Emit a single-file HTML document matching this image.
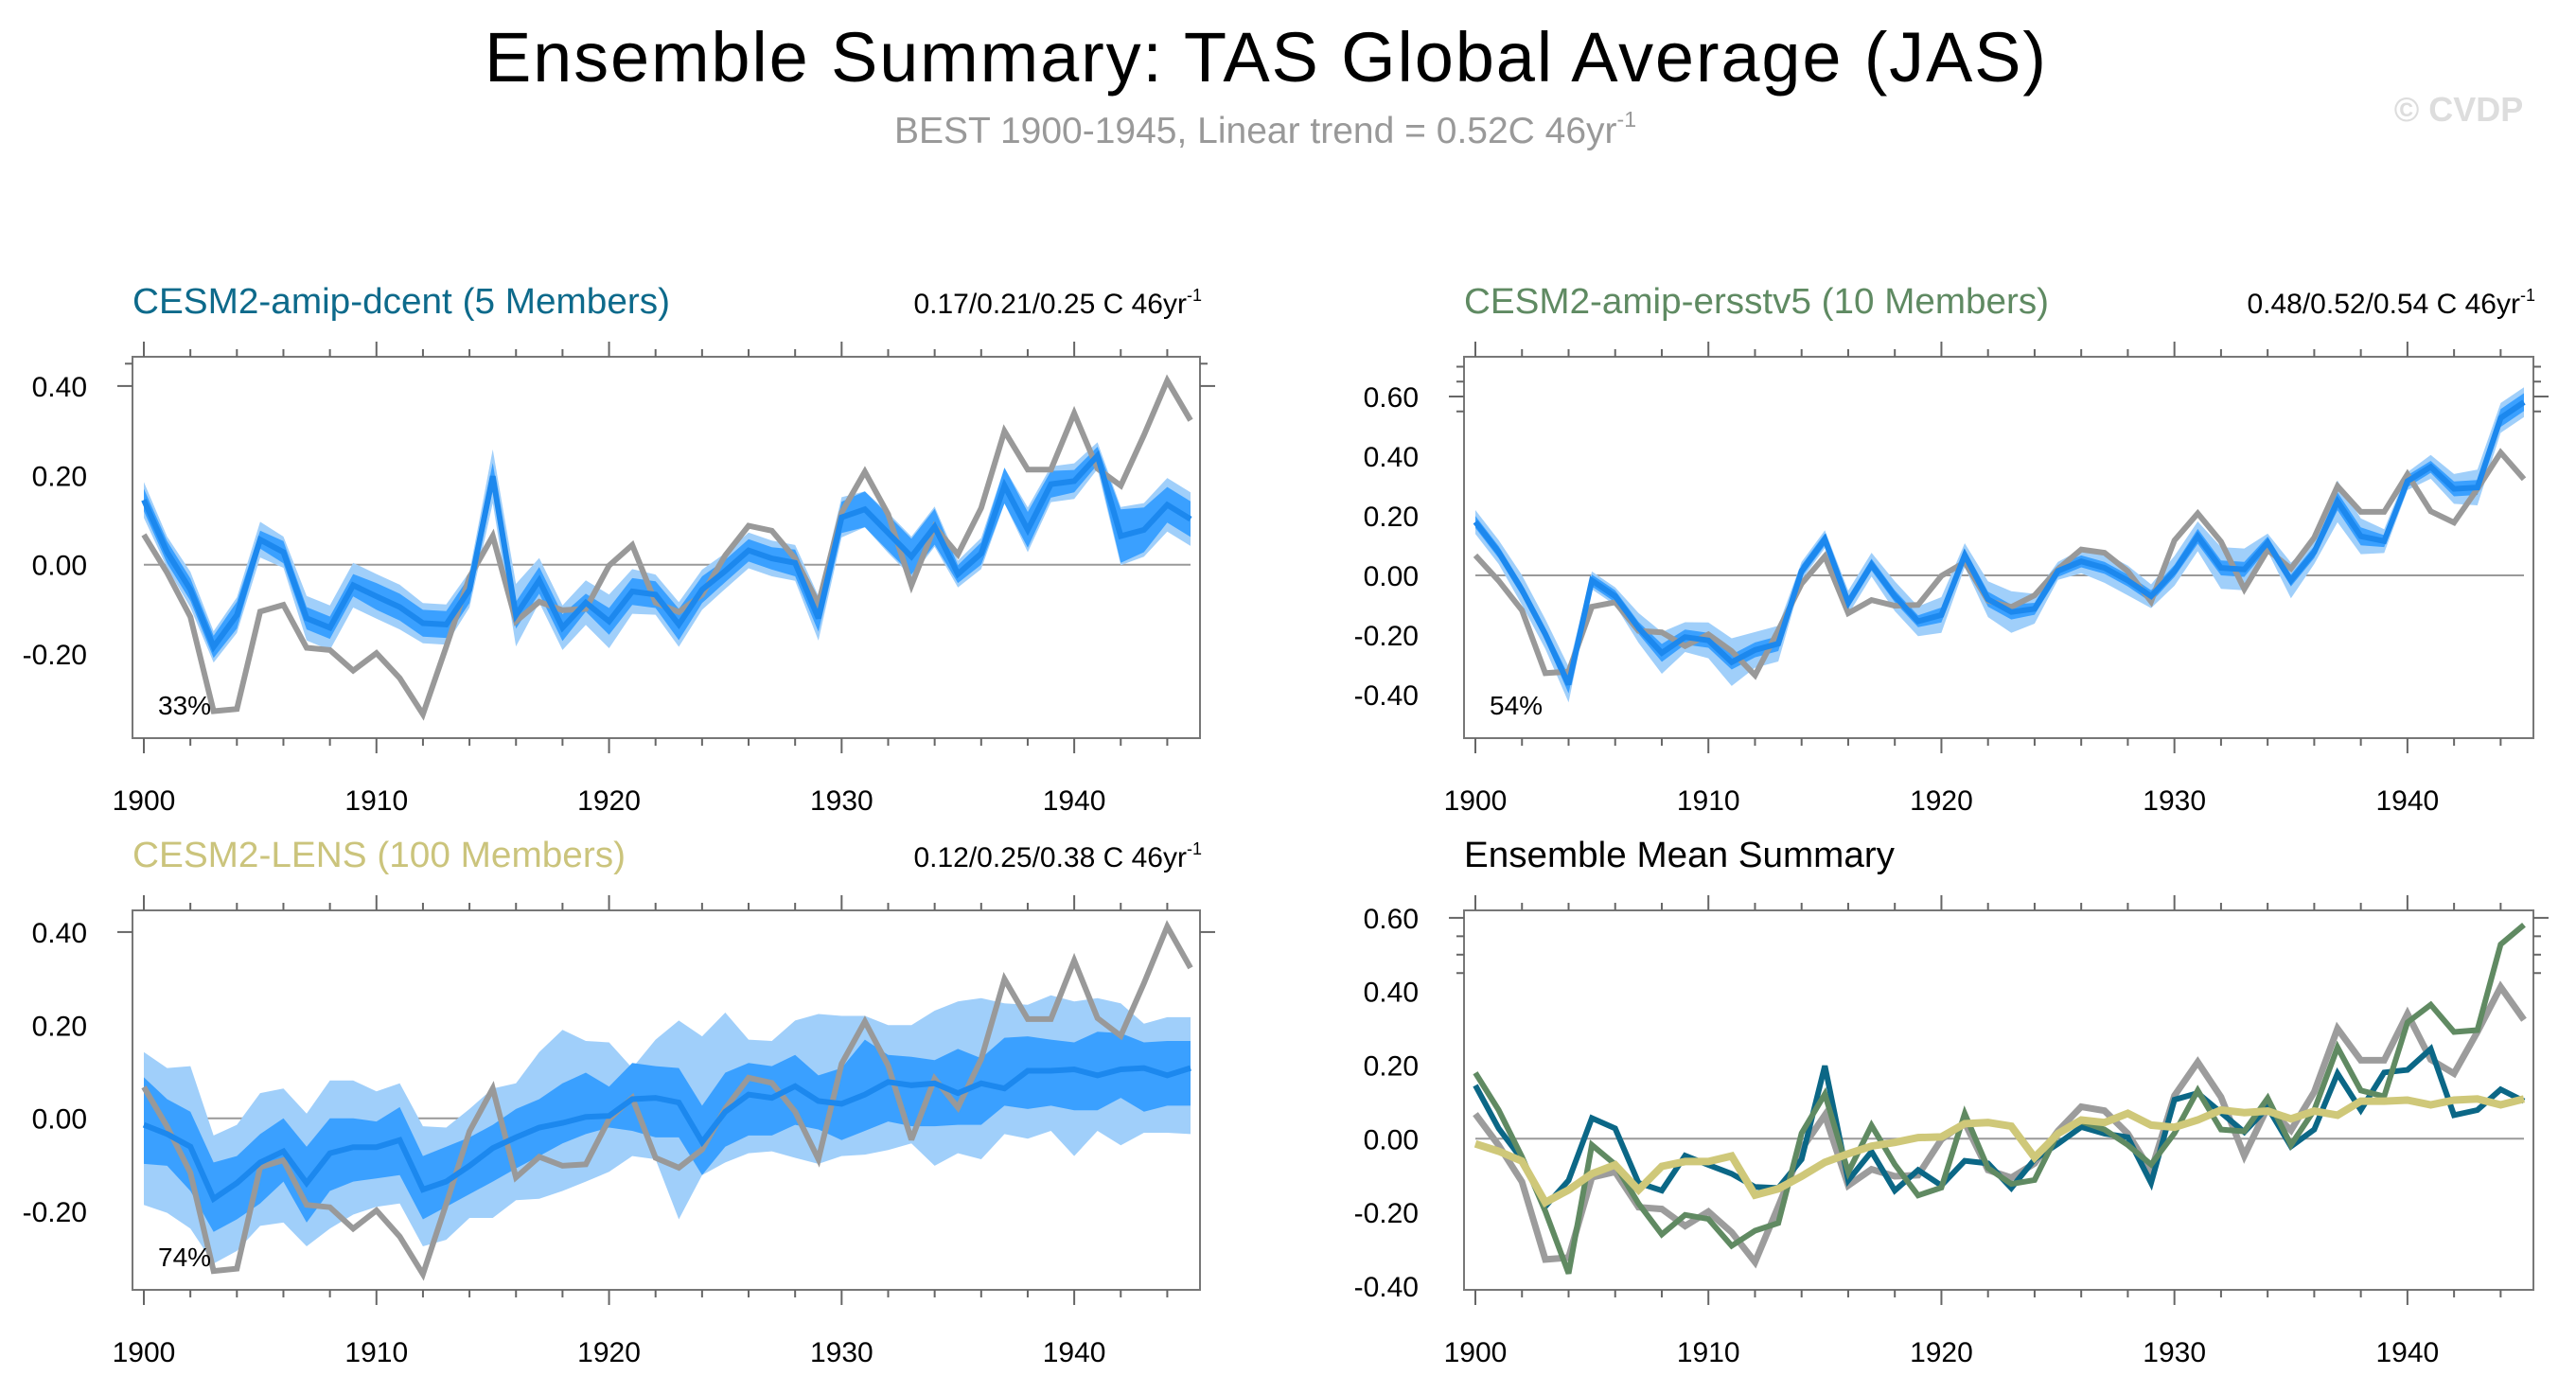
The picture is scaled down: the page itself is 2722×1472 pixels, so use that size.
<!DOCTYPE html>
<html><head><meta charset="utf-8"><style>
html,body{margin:0;padding:0;background:#fff;}
svg{display:block;font-family:"Liberation Sans",sans-serif;}
</style></head><body>
<svg id="chart" width="2722" height="1472" viewBox="0 0 2722 1472" xmlns="http://www.w3.org/2000/svg">
<text x="1337" y="86" font-size="74" text-anchor="middle" fill="#000" textLength="1650">Ensemble Summary: TAS Global Average (JAS)</text>
<text x="1337" y="151" font-size="39" text-anchor="middle" fill="#999">BEST 1900-1945, Linear trend = 0.52C 46yr<tspan font-size="23" dy="-17">-1</tspan></text>
<text x="2598" y="128" font-size="36" font-weight="bold" text-anchor="middle" fill="#ddd">© CVDP</text>
<g id="panels"></g>
</svg>
<script>
const years = [1900,1901,1902,1903,1904,1905,1906,1907,1908,1909,1910,1911,1912,1913,1914,1915,1916,1917,1918,1919,1920,1921,1922,1923,1924,1925,1926,1927,1928,1929,1930,1931,1932,1933,1934,1935,1936,1937,1938,1939,1940,1941,1942,1943,1944,1945];
const best = [0.067,-0.018,-0.117,-0.328,-0.323,-0.105,-0.090,-0.186,-0.191,-0.237,-0.198,-0.254,-0.335,-0.184,-0.028,0.064,-0.127,-0.083,-0.102,-0.099,-0.002,0.044,-0.085,-0.106,-0.067,0.021,0.087,0.076,0.014,-0.088,0.117,0.208,0.113,-0.046,0.085,0.023,0.127,0.299,0.213,0.213,0.339,0.215,0.177,0.290,0.412,0.323];
const dcentMean = [0.145,0.028,-0.056,-0.184,-0.113,0.056,0.028,-0.120,-0.141,-0.046,-0.071,-0.095,-0.131,-0.134,-0.056,0.198,-0.113,-0.035,-0.141,-0.085,-0.127,-0.060,-0.067,-0.134,-0.056,-0.014,0.032,0.014,0.004,-0.120,0.106,0.124,0.071,0.018,0.085,-0.021,0.025,0.177,0.078,0.180,0.187,0.244,0.064,0.078,0.134,0.102];
const dcentInner = [0.025,0.025,0.025,0.025,0.03,0.02,0.025,0.025,0.025,0.025,0.03,0.03,0.03,0.03,0.03,0.03,0.03,0.03,0.03,0.02,0.03,0.03,0.03,0.035,0.03,0.025,0.025,0.025,0.03,0.03,0.035,0.04,0.04,0.04,0.04,0.02,0.025,0.04,0.04,0.03,0.025,0.02,0.06,0.05,0.04,0.04];
const dcentOuter = [0.04,0.035,0.04,0.035,0.04,0.04,0.035,0.05,0.05,0.05,0.05,0.05,0.045,0.045,0.04,0.06,0.07,0.05,0.05,0.05,0.06,0.05,0.045,0.05,0.045,0.04,0.04,0.04,0.04,0.05,0.045,0.04,0.045,0.045,0.045,0.03,0.035,0.04,0.05,0.04,0.04,0.03,0.065,0.06,0.06,0.06];
const ersMean = [0.179,0.078,-0.049,-0.197,-0.366,-0.017,-0.070,-0.176,-0.260,-0.207,-0.218,-0.291,-0.250,-0.229,0.015,0.121,-0.091,0.036,-0.070,-0.154,-0.133,0.068,-0.080,-0.123,-0.112,0.015,0.047,0.025,-0.017,-0.070,0.015,0.131,0.025,0.020,0.110,-0.017,0.078,0.248,0.131,0.115,0.316,0.364,0.290,0.295,0.528,0.581];
const ersInner = [0.02,0.02,0.02,0.02,0.03,0.02,0.02,0.02,0.03,0.025,0.025,0.025,0.025,0.025,0.02,0.02,0.02,0.02,0.02,0.02,0.025,0.02,0.025,0.025,0.02,0.02,0.02,0.02,0.02,0.02,0.02,0.025,0.025,0.025,0.02,0.02,0.02,0.03,0.03,0.02,0.02,0.02,0.025,0.025,0.03,0.03];
const ersOuter = [0.04,0.04,0.05,0.05,0.06,0.03,0.03,0.05,0.07,0.05,0.06,0.08,0.06,0.06,0.03,0.03,0.04,0.04,0.05,0.05,0.06,0.04,0.06,0.07,0.05,0.03,0.04,0.05,0.05,0.04,0.05,0.05,0.07,0.07,0.03,0.06,0.04,0.07,0.06,0.04,0.03,0.04,0.05,0.06,0.05,0.05];
const lensMean = [-0.014,-0.034,-0.061,-0.173,-0.139,-0.095,-0.071,-0.139,-0.075,-0.062,-0.062,-0.047,-0.153,-0.136,-0.102,-0.064,-0.041,-0.020,-0.010,0.003,0.005,0.041,0.044,0.034,-0.051,0.014,0.051,0.044,0.069,0.037,0.031,0.051,0.078,0.071,0.075,0.054,0.075,0.064,0.102,0.102,0.105,0.092,0.105,0.108,0.092,0.108];
const lensInnerHi = [0.088,0.041,0.014,-0.095,-0.081,-0.034,0,-0.061,0,0,-0.007,0.024,-0.081,-0.061,-0.041,-0.014,0.020,0.041,0.075,0.098,0.068,0.119,0.112,0.108,0.027,0.098,0.119,0.112,0.136,0.092,0.108,0.169,0.136,0.132,0.125,0.149,0.129,0.173,0.176,0.169,0.163,0.186,0.183,0.163,0.166,0.166];
const lensInnerLo = [-0.098,-0.102,-0.156,-0.244,-0.217,-0.183,-0.136,-0.224,-0.156,-0.136,-0.129,-0.122,-0.217,-0.190,-0.163,-0.136,-0.108,-0.081,-0.054,-0.034,-0.020,-0.027,-0.041,-0.041,-0.122,-0.061,-0.037,-0.037,-0.014,-0.024,-0.047,-0.027,-0.007,-0.017,-0.017,-0.014,-0.014,0.027,0.020,0.027,0.017,0.017,0.044,0.014,0.027,0.027];
const lensOuterHi = [0.142,0.108,0.112,-0.037,-0.014,0.054,0.064,0.010,0.081,0.081,0.058,0.075,-0.017,-0.020,0.020,0.064,0.075,0.142,0.190,0.166,0.163,0.108,0.169,0.210,0.176,0.227,0.169,0.166,0.210,0.224,0.220,0.220,0.200,0.200,0.231,0.251,0.258,0.247,0.244,0.264,0.251,0.258,0.247,0.203,0.217,0.217];
const lensOuterLo = [-0.186,-0.203,-0.237,-0.312,-0.285,-0.231,-0.224,-0.275,-0.237,-0.207,-0.190,-0.183,-0.275,-0.261,-0.214,-0.214,-0.176,-0.173,-0.156,-0.136,-0.115,-0.081,-0.088,-0.217,-0.122,-0.095,-0.075,-0.071,-0.085,-0.098,-0.081,-0.078,-0.068,-0.054,-0.102,-0.075,-0.088,-0.034,-0.044,-0.027,-0.081,-0.027,-0.058,-0.031,-0.031,-0.034];
const xTickLabels = ["1900","1910","1920","1930","1940"];
const yTicksSmall = [-0.2,0,0.2,0.4];
const yTicksLarge = [-0.4,-0.2,0,0.2,0.4,0.6];

const NS = "http://www.w3.org/2000/svg";
const root = document.getElementById('panels');
function mk(tag, attrs, parent){
  const e = document.createElementNS(NS, tag);
  for (const k in attrs) e.setAttribute(k, attrs[k]);
  (parent||root).appendChild(e);
  return e;
}
function fmt(v){ return v.toFixed(2); }

function drawPanel(p){
  const g = mk('g', {});
  
  
  const xs = y => p.x0 + 12 + (y - 1900) * (p.x1 - p.x0 - 22) / 45;
  const ys = v => p.zero - v * p.ppu;
  const vmin = (p.zero - p.y1) / -p.ppu, vmax = (p.zero - p.y0) / p.ppu;
  const fr = mk('rect', {x:p.x0, y:p.y0, width:p.x1-p.x0, height:p.y1-p.y0, fill:'#fff', stroke:'#777', 'stroke-width':2}, g);
  
  
  for (let yr = 1900; yr <= 1946; yr += 2) {
    const x = xs(yr); if (x > p.x1) continue;
    const major = (yr % 10 === 0);
    const L = major ? 16 : 8;
    mk('line', {x1:x, x2:x, y1:p.y1, y2:p.y1+L, stroke:'#666', 'stroke-width':2}, g);
    mk('line', {x1:x, x2:x, y1:p.y0, y2:p.y0-L, stroke:'#666', 'stroke-width':2}, g);
  }
  xTickLabels.forEach(lab => {
    const t = mk('text', {x:xs(+lab), y:p.y1+76, 'font-size':30, 'text-anchor':'middle', fill:'#000'}, g);
    t.textContent = lab;
    
    
  });
  for (let k = Math.ceil(vmin*20); k <= Math.floor(vmax*20); k++) {
    const v = k/20, y = ys(v);
    const major = (k % 4 === 0);
    const L = major ? 16 : 8;
    mk('line', {x1:p.x0-L, x2:p.x0, y1:y, y2:y, stroke:'#666', 'stroke-width':2}, g);
    mk('line', {x1:p.x1, x2:p.x1+L, y1:y, y2:y, stroke:'#666', 'stroke-width':2}, g);
  }
  p.yticks.forEach(v => {
    const t = mk('text', {x:p.x0-48, y:ys(v)+11, 'font-size':30, 'text-anchor':'end', fill:'#000'}, g);
    t.textContent = fmt(v);
    
    
  });
  const z = mk('line', {x1:p.x0+12, x2:p.x1-10, y1:ys(0), y2:ys(0), stroke:'#999', 'stroke-width':2}, g);
  
  
  const band = (lo, hi, color, nm) => {
    let d = '';
    years.forEach((yr,i)=>{ d += (i?'L':'M') + xs(yr).toFixed(1) + ',' + ys(hi[i]).toFixed(1); });
    for (let i = years.length-1; i >= 0; i--) d += 'L' + xs(years[i]).toFixed(1) + ',' + ys(lo[i]).toFixed(1);
    const e = mk('path', {d:d+'Z', fill:color, stroke:'none'}, g);
    
    
  };
  const line = (vals, color, w, nm) => {
    let d = '';
    years.forEach((yr,i)=>{ d += (i?'L':'M') + xs(yr).toFixed(1) + ',' + ys(vals[i]).toFixed(1); });
    const e = mk('path', {d:d, fill:'none', stroke:color, 'stroke-width':w, 'stroke-linejoin':'miter', 'stroke-miterlimit':3}, g);
    
    
  };
  if (p.bands) {
    band(p.bands.outerLo, p.bands.outerHi, '#a0cffa', 'outer-spread-band');
    band(p.bands.innerLo, p.bands.innerHi, '#3aa0ff', 'inner-spread-band');
    line(best, '#999', 6, 'best-observed-line');
    line(p.mean, '#1c88ee', 6, 'ensemble-mean-line');
  }
  if (p.multi) {
    line(best, '#9c9c9c', 7, 'best-observed-line');
    line(dcentMean, '#0b6786', 6, 'dcent-mean-line');
    line(ersMean, '#608a62', 6, 'ersstv5-mean-line');
    line(lensMean, '#cfc879', 8, 'lens-mean-line');
  }
  const tt = mk('text', {x:p.x0, y:p.y0-46, 'font-size':38, fill:p.titleColor, textLength:p.titleLen, lengthAdjust:'spacingAndGlyphs'}, g);
  tt.textContent = p.title;
  
  
  if (p.trend) {
    const tr = mk('text', {x:p.x1+2, y:p.y0-46, 'font-size':30, 'text-anchor':'end', fill:'#000'}, g);
    tr.textContent = p.trend + ' C 46yr';
    const sp = mk('tspan', {'font-size':18, dy:-13}, tr);
    sp.textContent = '-1';
    
    
  }
  if (p.pct) {
    const pc = mk('text', {x:p.x0+27, y:p.y1-25, 'font-size':28, fill:'#000'}, g);
    pc.textContent = p.pct;
    
    
  }
}
function addSub(a, s){ return a.map((v,i)=>v - s[i]); }
function addSum(a, s){ return a.map((v,i)=>v + s[i]); }

drawPanel({name:'panel-cesm2-amip-dcent', x0:140, x1:1268, y0:377, y1:780, zero:596.7, ppu:472, yticks:yTicksSmall,
  title:'CESM2-amip-dcent (5 Members)', titleLen:568, titleColor:'#0d6a8b', trend:'0.17/0.21/0.25', pct:'33%', mean:dcentMean,
  bands:{innerLo:addSub(dcentMean,dcentInner), innerHi:addSum(dcentMean,dcentInner), outerLo:addSub(dcentMean,dcentOuter), outerHi:addSum(dcentMean,dcentOuter)}});
drawPanel({name:'panel-cesm2-amip-ersstv5', x0:1547, x1:2677, y0:377, y1:780, zero:608, ppu:315, yticks:yTicksLarge,
  title:'CESM2-amip-ersstv5 (10 Members)', titleLen:618, titleColor:'#5f8a62', trend:'0.48/0.52/0.54', pct:'54%', mean:ersMean,
  bands:{innerLo:addSub(ersMean,ersInner), innerHi:addSum(ersMean,ersInner), outerLo:addSub(ersMean,ersOuter), outerHi:addSum(ersMean,ersOuter)}});
drawPanel({name:'panel-cesm2-lens', x0:140, x1:1268, y0:962, y1:1363, zero:1181.7, ppu:492, yticks:yTicksSmall,
  title:'CESM2-LENS (100 Members)', titleLen:521, titleColor:'#cbc47c', trend:'0.12/0.25/0.38', pct:'74%', mean:lensMean,
  bands:{innerLo:lensInnerLo, innerHi:lensInnerHi, outerLo:lensOuterLo, outerHi:lensOuterHi}});
drawPanel({name:'panel-ensemble-mean-summary', x0:1547, x1:2677, y0:962, y1:1363, zero:1203.3, ppu:389, yticks:yTicksLarge,
  title:'Ensemble Mean Summary', titleLen:455, titleColor:'#000', multi:true});
</script>
</body></html>
